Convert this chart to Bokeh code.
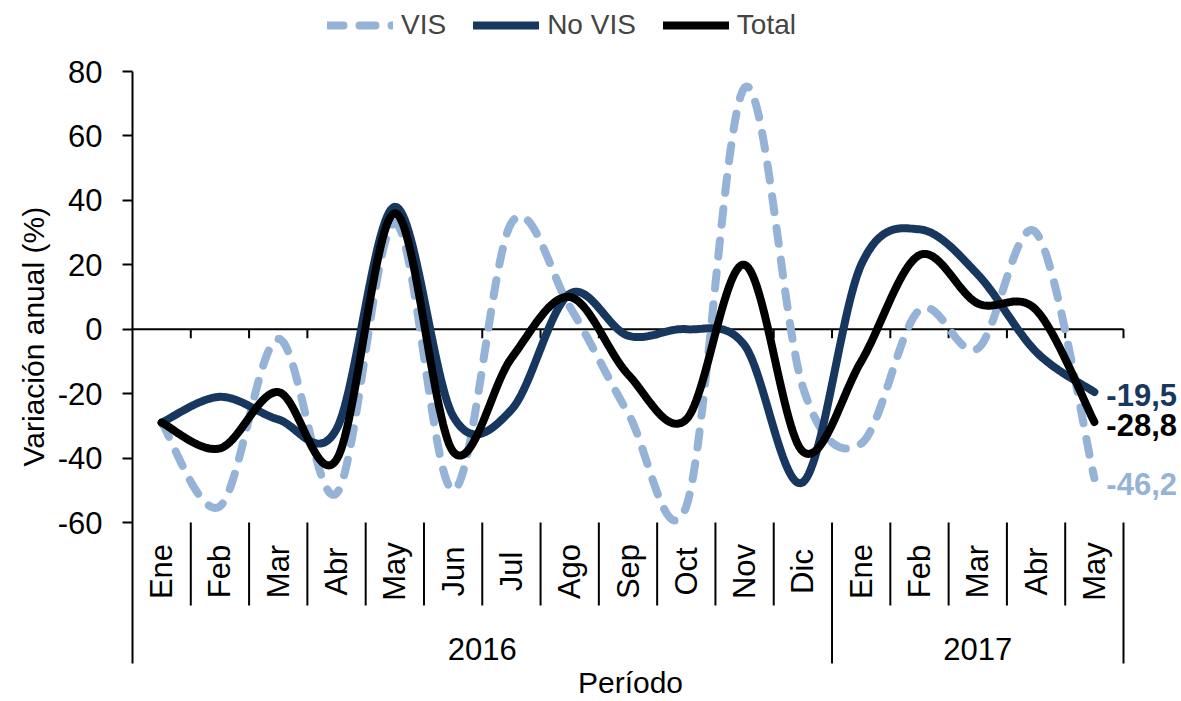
import numpy as np
from bokeh.plotting import figure
from bokeh.models import Range1d, FixedTicker, Legend, LegendItem
from bokeh.core.properties import value
from bokeh.embed import file_html
from bokeh.resources import INLINE

# ---------------- data ----------------
months = ["Ene", "Feb", "Mar", "Abr", "May", "Jun", "Jul", "Ago", "Sep", "Oct",
          "Nov", "Dic", "Ene", "Feb", "Mar", "Abr", "May"]
years = ["2016"] * 12 + ["2017"] * 5
vis = [-29, -55, -3, -51, 33, -50, 33, 7, -26, -55, 75, -18, -35.5, 6, -6, 30, -46.2]
novis = [-29, -21, -28, -31, 38, -27, -25, 11, -2, 0, -5, -47.5, 20, 31, 17, -7, -19.5]
total = [-29, -37, -19.5, -40.5, 36, -38, -9, 10, -14, -28, 20, -38, -10, 23, 8, 6, -28.8]
y_ticks = [-60, -40, -20, 0, 20, 40, 60, 80]
y_title = "Variación anual  (%)"
x_title = "Período"

FONT = "Liberation Sans"
FS = "31px"
C_VIS = "#95B3D7"
C_NOVIS = "#17375E"
C_TOTAL = "#000000"

n = len(months)
xc = np.arange(n) + 0.5

def smooth(xs, ys, steps=30):
    P = np.column_stack([xs, ys]).astype(float)
    out = []
    for i in range(len(P) - 1):
        p0 = P[i - 1] if i > 0 else P[i]
        p1 = P[i]
        p2 = P[i + 1]
        p3 = P[i + 2] if i + 2 < len(P) else P[i + 1]
        c1 = p1 + (p2 - p0) / 6.0
        c2 = p2 - (p3 - p1) / 6.0
        t = np.linspace(0, 1, steps)[:, None]
        B = (1 - t) ** 3 * p1 + 3 * (1 - t) ** 2 * t * c1 + 3 * (1 - t) * t ** 2 * c2 + t ** 3 * p2
        out.append(B if i == 0 else B[1:])
    B = np.vstack(out)
    return B[:, 0], B[:, 1]

# ---------------- layout (pixel geometry) ----------------
W, H = 1181, 701
AX_LEFT, AX_RIGHT = 132, 1123      # category axis extent in px
AX_TOP, AX_M60 = 71, 522           # px of y=80 and y=-60
AX_BOTTOM = 663                    # px of bottom of category labels area
PX_X = (AX_RIGHT - AX_LEFT) / n
PX_Y = (AX_M60 - AX_TOP) / (y_ticks[-1] - y_ticks[0])

def xd(px):
    return (px - AX_LEFT) / PX_X

def yd(py):
    return y_ticks[-1] - (py - AX_TOP) / PX_Y

p = figure(width=W, height=H, output_backend="svg", toolbar_location=None,
           x_range=Range1d(xd(0), xd(W)), y_range=Range1d(yd(H), yd(0)),
           x_axis_type=None, min_border=0)
p.grid.visible = False
p.outline_line_color = None
p.background_fill_color = "white"
p.border_fill_color = "white"

ax = p.yaxis[0]
ax.fixed_location = 0
ax.bounds = (yd(AX_BOTTOM), y_ticks[-1])
ax.ticker = FixedTicker(ticks=y_ticks)
ax.major_label_overrides = {t: str(t) for t in y_ticks}
ax.minor_tick_line_color = None
ax.major_tick_in = 0
ax.major_tick_out = 10
ax.major_tick_line_width = 2
ax.axis_line_width = 2
ax.major_label_standoff = 20
ax.major_label_text_font = FONT
ax.major_label_text_font_size = FS
ax.major_label_text_color = "black"

# zero line and its ticks
p.segment(x0=[0], y0=[0], x1=[n], y1=[0], line_color="black", line_width=2)
bx = np.arange(1, n + 1)
p.segment(x0=bx, y0=np.zeros(n), x1=bx, y1=np.full(n, -9 / PX_Y), line_color="black", line_width=2)

# category axis: separators
Y_MIN = y_ticks[0]
year_bounds = [i for i in range(1, n) if years[i] != years[i - 1]] + [n]
month_bounds = [b for b in bx if b not in year_bounds]
p.segment(x0=month_bounds, y0=[Y_MIN] * len(month_bounds), x1=month_bounds,
          y1=[yd(605)] * len(month_bounds), line_color="black", line_width=2)
p.segment(x0=year_bounds, y0=[Y_MIN] * len(year_bounds), x1=year_bounds,
          y1=[yd(AX_BOTTOM)] * len(year_bounds), line_color="black", line_width=2)

# month labels
p.text(x=xc, y=[yd(571)] * n, text=months, angle=np.pi / 2, text_align="center",
       text_baseline="middle", text_font=value(FONT), text_font_size=FS, text_color="black")

# year labels
uy = []
for yv in years:
    if yv not in uy:
        uy.append(yv)
ycent = [float(np.mean([xc[i] for i in range(n) if years[i] == yv])) for yv in uy]
p.text(x=ycent, y=[yd(648)] * len(uy), text=uy, text_align="center", text_baseline="middle",
       text_font=value(FONT), text_font_size=FS, text_color="black")

# axis titles
p.text(x=[xd(33)], y=[yd(332)], text=[y_title], angle=np.pi / 2, text_align="center",
       text_baseline="middle", text_font=value(FONT), text_font_size="30px", text_color="black")
p.text(x=[xd(630)], y=[yd(682)], text=[x_title], text_align="center",
       text_baseline="middle", text_font=value(FONT), text_font_size="30px",
       text_color="black")

# series
r_vis = p.line(*smooth(xc, vis), line_color=C_VIS, line_width=8, line_dash="16 16",
               line_cap="round", line_join="round")
r_nov = p.line(*smooth(xc, novis), line_color=C_NOVIS, line_width=8, line_cap="round",
               line_join="round")
r_tot = p.line(*smooth(xc, total), line_color=C_TOTAL, line_width=8, line_cap="round",
               line_join="round")

# end labels
last = n - 1
end_vals = [novis[last], total[last], vis[last]]
end_cols = [C_NOVIS, C_TOTAL, C_VIS]
end_off = [3, 3, 6]
for v, c, o in zip(end_vals, end_cols, end_off):
    p.text(x=[xc[last]], y=[v], text=[f"{v:.1f}".replace(".", ",")], x_offset=12, y_offset=o,
           text_align="left", text_baseline="middle", text_font=value(FONT),
           text_font_size="31px", text_font_style="bold", text_color=c)

# legend
legend = Legend(items=[LegendItem(label="VIS", renderers=[r_vis]),
                       LegendItem(label="No VIS", renderers=[r_nov]),
                       LegendItem(label="Total", renderers=[r_tot])],
                orientation="horizontal", location=(327, H - 41), padding=0, margin=0,
                spacing=27, glyph_width=66, glyph_height=30, label_height=30,
                label_standoff=8, label_text_font=FONT, label_text_font_size="28px",
                border_line_color=None, background_fill_alpha=0)
p.add_layout(legend)

open("out.html", "w").write(file_html(p, INLINE))
